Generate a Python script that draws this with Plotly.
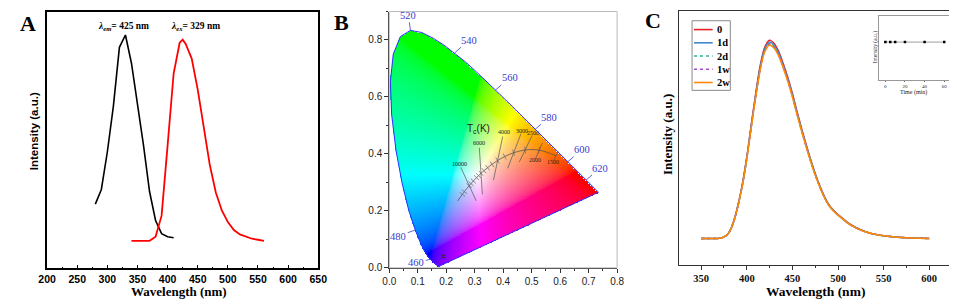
import numpy as np
import plotly.graph_objects as go

# ---------------- Panel A: excitation / emission ----------------
exc_wavelength = [280, 290, 300, 310, 320, 330, 340, 350, 360, 370, 380, 390, 400, 410]
exc_intensity = [0.251, 0.308, 0.455, 0.633, 0.862, 0.910, 0.800, 0.646, 0.480, 0.300, 0.187, 0.136, 0.124, 0.120]
emi_wavelength = [340, 350, 360, 370, 380, 390, 400, 410, 420, 425, 430, 440, 450, 460, 470, 480,
                  490, 500, 510, 520, 530, 540, 550, 560]
emi_intensity = [0.108, 0.108, 0.108, 0.108, 0.124, 0.206, 0.480, 0.760, 0.880, 0.892, 0.875, 0.818,
                 0.697, 0.544, 0.404, 0.296, 0.226, 0.181, 0.150, 0.133, 0.124, 0.116, 0.112, 0.108]
a_ticks = [200, 250, 300, 350, 400, 450, 500, 550, 600, 650]

# ---------------- Panel B: CIE 1931 chromaticity ----------------
locus_wl = [380, 385, 390, 395, 400, 405, 410, 415, 420, 425, 430, 435, 440, 445, 450, 455, 460, 465,
            470, 475, 480, 485, 490, 495, 500, 505, 510, 515, 520, 525, 530, 535, 540, 545, 550, 555,
            560, 565, 570, 575, 580, 585, 590, 595, 600, 605, 610, 615, 620, 625, 630, 635, 640, 645,
            650, 655, 660, 665, 670, 675, 680, 690, 700]
locus_x = [0.1741, 0.1740, 0.1738, 0.1736, 0.1733, 0.1730, 0.1726, 0.1721, 0.1714, 0.1703, 0.1689,
           0.1669, 0.1644, 0.1611, 0.1566, 0.1510, 0.1440, 0.1355, 0.1241, 0.1096, 0.0913, 0.0687,
           0.0454, 0.0235, 0.0082, 0.0039, 0.0139, 0.0389, 0.0743, 0.1142, 0.1547, 0.1929, 0.2296,
           0.2658, 0.3016, 0.3373, 0.3731, 0.4087, 0.4441, 0.4788, 0.5125, 0.5448, 0.5752, 0.6029,
           0.6270, 0.6482, 0.6658, 0.6801, 0.6915, 0.7006, 0.7079, 0.7140, 0.7190, 0.7230, 0.7260,
           0.7283, 0.7300, 0.7311, 0.7320, 0.7327, 0.7334, 0.7344, 0.7347]
locus_y = [0.0050, 0.0050, 0.0049, 0.0049, 0.0048, 0.0048, 0.0048, 0.0048, 0.0051, 0.0058, 0.0069,
           0.0086, 0.0109, 0.0138, 0.0177, 0.0227, 0.0297, 0.0399, 0.0578, 0.0868, 0.1327, 0.2007,
           0.2950, 0.4127, 0.5384, 0.6548, 0.7502, 0.8120, 0.8338, 0.8262, 0.8059, 0.7816, 0.7543,
           0.7243, 0.6923, 0.6589, 0.6245, 0.5896, 0.5547, 0.5202, 0.4866, 0.4544, 0.4242, 0.3965,
           0.3725, 0.3514, 0.3340, 0.3197, 0.3083, 0.2993, 0.2920, 0.2859, 0.2809, 0.2770, 0.2740,
           0.2717, 0.2700, 0.2689, 0.2680, 0.2673, 0.2666, 0.2656, 0.2653]
locus_labels = [460, 480, 520, 540, 560, 580, 600, 620]

cct_K = [1500, 2000, 2500, 3000, 3500, 4000, 4500, 5000, 5500, 6000, 6500, 7000, 8000, 9000, 10000,
         15000, 20000, 100000]
cct_x = [0.5857, 0.5267, 0.4770, 0.4369, 0.4053, 0.3805, 0.3608, 0.3451, 0.3325, 0.3221, 0.3135,
         0.3064, 0.2952, 0.2869, 0.2807, 0.2637, 0.2565, 0.2399]
cct_y = [0.3931, 0.4133, 0.4137, 0.4041, 0.3907, 0.3768, 0.3636, 0.3516, 0.3411, 0.3318, 0.3237,
         0.3166, 0.3048, 0.2956, 0.2884, 0.2674, 0.2577, 0.2342]
cct_labels = [10000, 6000, 4000, 3000, 2500, 2000, 1500]
sample_cie = (0.19, 0.04)

# ---------------- Panel C: stability ----------------
stab_wavelength = [350, 355, 360, 365, 370, 375, 380, 385, 390, 395, 400, 405, 410, 415, 420, 425,
                   430, 435, 440, 445, 450, 455, 460, 465, 470, 475, 480, 485, 490, 495, 500, 505,
                   510, 515, 520, 525, 530, 540, 550, 560, 570, 580, 590, 600]
stab_base = [0.104, 0.104, 0.104, 0.104, 0.105, 0.110, 0.125, 0.165, 0.230, 0.315, 0.425, 0.555,
             0.680, 0.790, 0.860, 0.885, 0.872, 0.840, 0.792, 0.738, 0.675, 0.605, 0.538, 0.475,
             0.415, 0.360, 0.312, 0.270, 0.237, 0.215, 0.198, 0.183, 0.168, 0.156, 0.146, 0.138,
             0.131, 0.121, 0.115, 0.111, 0.108, 0.106, 0.105, 0.104]
stab_names = ["0", "1d", "2d", "1w", "2w"]
stab_rel_peak = [1.000, 0.990, 0.985, 0.980, 0.975]
c_ticks = [350, 400, 450, 500, 550, 600]

inset_time = [0, 5, 10, 20, 40, 60]
inset_intensity = [1.0, 1.0, 1.0, 1.0, 1.0, 1.0]

# ---------------- styles ----------------
SERIF = "Liberation Serif"
SANS = "Liberation Sans"
stab_colors = ["#e8202a", "#3f88cc", "#2fb39a", "#a54bd0", "#ff8a00"]
stab_dash = ["solid", "solid", "dot", "dot", "solid"]
LBLUE = "#3b3bd0"

fig = go.Figure()

# Panel A traces
fig.add_trace(go.Scatter(x=exc_wavelength, y=exc_intensity, mode="lines",
                         line=dict(color="black", width=1.6), xaxis="x", yaxis="y",
                         showlegend=False, hoverinfo="skip"))
fig.add_trace(go.Scatter(x=emi_wavelength, y=emi_intensity, mode="lines",
                         line=dict(color="#ff0000", width=1.8), xaxis="x", yaxis="y",
                         showlegend=False, hoverinfo="skip"))

# Panel B: colour image of chromaticity
lx = np.array(locus_x)
ly = np.array(locus_y)
step = 0.0025
gx = np.arange(0, 0.8, step) + step / 2
gy = np.arange(0, 0.9, step) + step / 2
GX, GY = np.meshgrid(gx, gy)


def inside_polygon(px, py, vx, vy):
    res = np.zeros(px.shape, bool)
    n = len(vx)
    j = n - 1
    for i in range(n):
        xi, yi, xj, yj = vx[i], vy[i], vx[j], vy[j]
        denom = (yj - yi) if abs(yj - yi) > 1e-12 else 1e-12
        cond = ((yi > py) != (yj > py)) & (px < (xj - xi) * (py - yi) / denom + xi)
        res ^= cond
        j = i
    return res


inside = inside_polygon(GX, GY, lx, ly)
Xc = GX / GY
Zc = (1 - GX - GY) / GY
r = 3.2406 * Xc - 1.5372 - 0.4986 * Zc
g = -0.9689 * Xc + 1.8758 + 0.0415 * Zc
b = 0.0557 * Xc - 0.2040 + 1.0570 * Zc
rgb = np.clip(np.stack([r, g, b], -1), 0, None)
rgb = rgb / np.maximum(rgb.max(-1, keepdims=True), 1e-9)
rgb = np.where(rgb <= 0.0031308, 12.92 * rgb, 1.055 * np.power(rgb, 1 / 2.4) - 0.055)
img = (np.clip(rgb, 0, 1) * 255).astype(np.uint8)
img[~inside] = 255
fig.add_trace(go.Image(z=img, x0=gx[0], dx=step, y0=gy[0], dy=step, xaxis="x2", yaxis="y2",
                       hoverinfo="skip"))

# locus outline
fig.add_trace(go.Scatter(x=list(locus_x) + [locus_x[0]], y=list(locus_y) + [locus_y[0]], mode="lines",
                         line=dict(color="#3030ff", width=1), xaxis="x2", yaxis="y2",
                         showlegend=False, hoverinfo="skip"))

# Planckian locus with ticks
cx = np.array(cct_x)
cy = np.array(cct_y)
fig.add_trace(go.Scatter(x=cx, y=cy, mode="lines", line=dict(color="#555555", width=0.8, shape="spline"),
                         xaxis="x2", yaxis="y2", showlegend=False, hoverinfo="skip"))
tx, ty = [], []
for i in range(1, len(cx) - 1):
    dx_ = cx[i + 1] - cx[i - 1]
    dy_ = cy[i + 1] - cy[i - 1]
    nrm = np.hypot(dx_, dy_)
    px_, py_ = -dy_ / nrm, dx_ / nrm
    L = 0.012
    tx += [cx[i] - px_ * L, cx[i] + px_ * L, None]
    ty += [cy[i] - py_ * L, cy[i] + py_ * L, None]
fig.add_trace(go.Scatter(x=tx, y=ty, mode="lines", line=dict(color="#666666", width=0.7),
                         xaxis="x2", yaxis="y2", showlegend=False, hoverinfo="skip"))

# isotemperature lines with labels
cct_label_offset = {10000: (-0.035, 0.076), 6000: (-0.007, 0.106), 4000: (0.021, 0.099),
                    3000: (0.030, 0.078), 2500: (0.029, 0.060), 2000: (-0.016, -0.036),
                    1500: (-0.011, -0.022)}
ix, iy = [], []
annotations = []
for T in cct_labels:
    k = cct_K.index(T)
    ox, oy = cct_label_offset[T]
    ix += [cx[k] - 0.7 * ox, cx[k] + 0.85 * ox, None]
    iy += [cy[k] - 0.7 * oy, cy[k] + 0.85 * oy, None]
    annotations.append(dict(x=cx[k] + ox, y=cy[k] + oy, xref="x2", yref="y2", text=str(T),
                            xanchor="center", yanchor="middle",
                            showarrow=False, font=dict(family=SERIF, size=6, color="#222222")))
fig.add_trace(go.Scatter(x=ix, y=iy, mode="lines", line=dict(color="#555555", width=0.7),
                         xaxis="x2", yaxis="y2", showlegend=False, hoverinfo="skip"))
annotations.append(dict(x=0.315, y=0.488, xref="x2", yref="y2", text="T<sub>c</sub>(K)",
                        xanchor="center", yanchor="middle",
                        showarrow=False, font=dict(family=SANS, size=10, color="#222222")))
fig.add_trace(go.Scatter(x=[sample_cie[0]], y=[sample_cie[1]], mode="markers",
                         marker=dict(symbol="x-thin", size=4, line=dict(color="#222222", width=1)),
                         xaxis="x2", yaxis="y2", showlegend=False, hoverinfo="skip"))

# wavelength labels on the locus
wl_offsets = {460: (-14, 3), 480: (-17, 6), 520: (-2, -15), 540: (14, -13), 560: (14, -12),
              580: (14, -12), 600: (14, -12), 620: (14, -12)}
for wl in locus_labels:
    k = locus_wl.index(wl)
    ax_, ay_ = wl_offsets[wl]
    annotations.append(dict(x=locus_x[k], y=locus_y[k], xref="x2", yref="y2", text=str(wl),
                            showarrow=True, arrowhead=0, arrowwidth=0.8, arrowcolor=LBLUE,
                            ax=ax_, ay=ay_, standoff=0,
                            font=dict(family=SERIF, size=10.5, color=LBLUE)))

# Panel C traces
base = np.array(stab_base)
floor = base.min()
for name, rel, col, dash in zip(stab_names, stab_rel_peak, stab_colors, stab_dash):
    yv = floor + (base - floor) * rel
    fig.add_trace(go.Scatter(x=stab_wavelength, y=yv, mode="lines", name=name,
                             line=dict(color=col, width=1.5, dash=dash, shape="spline"),
                             xaxis="x3", yaxis="y3", showlegend=False, hoverinfo="skip"))

# inset
fig.add_trace(go.Scatter(x=inset_time, y=inset_intensity, mode="lines+markers",
                         line=dict(color="#888888", width=0.8),
                         marker=dict(symbol="square", size=2.5, color="black"),
                         xaxis="x4", yaxis="y4", showlegend=False, hoverinfo="skip"))

# ---------------- manual legend in panel C ----------------
shapes = []
lg_x0, lg_x1, lg_y0, lg_y1 = 688 / 957, 727 / 957, 1 - 84 / 306, 1 - 13 / 306
shapes.append(dict(type="rect", xref="paper", yref="paper", x0=lg_x0, x1=lg_x1, y0=lg_y0, y1=lg_y1,
                   line=dict(color="#8a8a8a", width=1)))
row_y = [22, 35.5, 49, 62.5, 76]
for name, col, dash, ry in zip(stab_names, stab_colors, stab_dash, row_y):
    yy = 1 - ry / 306
    shapes.append(dict(type="line", xref="paper", yref="paper", x0=690 / 957, x1=709 / 957,
                       y0=yy, y1=yy, line=dict(color=col, width=1.6, dash=dash)))
    annotations.append(dict(x=711.5 / 957, y=yy, xref="paper", yref="paper", text=name,
                            xanchor="left", yanchor="middle", showarrow=False,
                            font=dict(family=SERIF, size=10.5, color="black", weight="bold")))

# Panel B light frame (top/right)
shapes.append(dict(type="rect", xref="x2 domain", yref="y2 domain", x0=0, x1=1, y0=0, y1=1,
                   line=dict(color="#bbbbbb", width=1), layer="above"))


def ptext(x, y, text, size, family, color="black", bold=False, angle=0):
    f = dict(family=family, size=size, color=color)
    if bold:
        f["weight"] = "bold"
    return dict(x=x / 957, y=1 - y / 306, xref="paper", yref="paper", text=text, textangle=angle,
                xanchor="center", yanchor="middle", showarrow=False, font=f)


# ---------------- text annotations ----------------
annotations += [
    dict(x=326, y=0.943, xref="x", yref="y", text="<i>λ<sub>em</sub></i>= 425 nm", showarrow=False,
         xanchor="center", yanchor="middle",
         font=dict(family=SERIF, size=9.5, color="black", weight="bold")),
    dict(x=447, y=0.943, xref="x", yref="y", text="<i>λ<sub>ex</sub></i>= 329 nm", showarrow=False,
         xanchor="center", yanchor="middle",
         font=dict(family=SERIF, size=9.5, color="black", weight="bold")),
    ptext(165.5, 289, "Wavelength (nm)", 13, SERIF, bold=True),
    ptext(17, 126, "Intensity (a.u.)", 11.5, SANS, bold=True, angle=-90),
    ptext(814, 289, "Wavelength (nm)", 13.5, SERIF, bold=True),
    ptext(663, 129, "Intensity (a.u.)", 13, SERIF, bold=True, angle=-90),
    ptext(914, 86, "Time (min)", 6, SERIF, color="#222222"),
    ptext(874.5, 40, "Intensity (a.u.)", 5.5, SERIF, color="#222222", angle=-90),
    ptext(11.5, 15.5, "A", 22, SERIF, bold=True),
    ptext(331, 15, "B", 22, SERIF, bold=True),
    ptext(648.5, 12.5, "C", 22, SERIF, bold=True),
]

fig.update_layout(
    width=957, height=306, margin=dict(l=0, r=0, t=0, b=0),
    paper_bgcolor="white", plot_bgcolor="white", showlegend=False,
    annotations=annotations, shapes=shapes,
    xaxis=dict(domain=[30.7 / 957, 307 / 957], range=[200, 650], tickvals=a_ticks, ticks="inside",
               ticklen=4, tickwidth=1, tickcolor="black",
               minor=dict(ticks="inside", dtick=25, ticklen=2, tickcolor="black"),
               showline=True, mirror=True, linecolor="black", linewidth=1.5, showgrid=False,
               zeroline=False, anchor="y",
               tickfont=dict(family=SANS, size=10.5, color="black", weight="bold")),
    yaxis=dict(domain=[1 - 265.7 / 306, 1 - 4 / 306], range=[0, 1], showticklabels=False, ticks="",
               showline=True, mirror=True, linecolor="black", linewidth=1.5, showgrid=False,
               zeroline=False, anchor="x"),
    xaxis2=dict(domain=[360 / 957, 631 / 957], range=[0, 0.8], dtick=0.1, tickformat=".1f",
                ticks="outside", ticklen=4, tickcolor="#333333",
                minor=dict(ticks="outside", dtick=0.05, ticklen=2, tickcolor="#333333"),
                showline=True, linecolor="#333333", linewidth=1, showgrid=False, zeroline=False,
                anchor="y2", tickfont=dict(family=SANS, size=10, color="#222222")),
    yaxis2=dict(domain=[1 - 265 / 306, 1 - 3.6 / 306], range=[0, 0.9], tickvals=[0, 0.2, 0.4, 0.6, 0.8],
                tickformat=".1f", ticks="outside", ticklen=4, tickcolor="#333333",
                minor=dict(ticks="outside", dtick=0.1, ticklen=2, tickcolor="#333333"),
                showline=True, linecolor="#333333", linewidth=1, showgrid=False, zeroline=False,
                anchor="x2", autorange=False,
                tickfont=dict(family=SANS, size=10, color="#222222")),
    xaxis3=dict(domain=[675 / 957, 952 / 957], range=[326, 624], tickvals=c_ticks, ticks="outside",
                ticklen=4, tickcolor="#333333",
                minor=dict(ticks="outside", dtick=25, ticklen=2, tickcolor="#333333"),
                showline=True, mirror=True, linecolor="#333333", linewidth=1, showgrid=False,
                zeroline=False, anchor="y3",
                tickfont=dict(family=SERIF, size=10.5, color="#111111", weight="bold")),
    yaxis3=dict(domain=[1 - 262 / 306, 1 - 3 / 306], range=[0, 1], showticklabels=False, ticks="",
                showline=True, mirror=True, linecolor="#333333", linewidth=1, showgrid=False,
                zeroline=False, anchor="x3"),
    xaxis4=dict(domain=[879 / 957, 951 / 957], range=[-6, 66], tickvals=[0, 20, 40, 60], ticks="outside",
                ticklen=1.5, tickcolor="#666666", showline=True, mirror=True, linecolor="#999999",
                linewidth=1, showgrid=False, zeroline=False, anchor="y4",
                tickfont=dict(family=SERIF, size=5, color="#222222")),
    yaxis4=dict(domain=[1 - 73 / 306, 1 - 8 / 306], range=[0, 1.7], showticklabels=False, ticks="",
                showline=True, mirror=True, linecolor="#999999", linewidth=1, showgrid=False,
                zeroline=False, anchor="x4"),
)

fig.write_html("out.html", config={"displayModeBar": False})
